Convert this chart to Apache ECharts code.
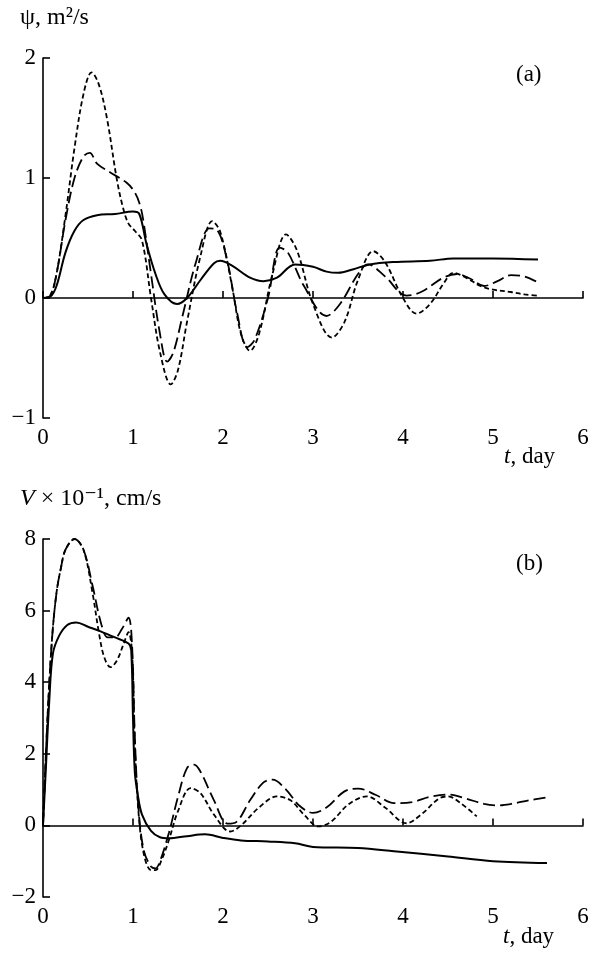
<!DOCTYPE html>
<html>
<head>
<meta charset="utf-8">
<script src="https://cdn.jsdelivr.net/npm/echarts@6/dist/echarts.min.js"></script>
<style>
  html, body { margin: 0; padding: 0; background: #fff; }
  #chart { width: 592px; height: 955px; }
</style>
</head>
<body>
<div id="chart"></div>
<script>
// panel (a): psi, m^2/s  -- [t, value]
const psiSolid = [[0,0],[0.08,0.01],[0.15,0.1],[0.25,0.38],[0.35,0.56],[0.45,0.65],[0.6,0.69],[0.8,0.7],[1.0,0.72],[1.07,0.7],[1.15,0.45],[1.25,0.2],[1.35,0.03],[1.49,-0.05],[1.6,0.0],[1.75,0.15],[1.9,0.29],[1.97,0.31],[2.1,0.27],[2.3,0.17],[2.45,0.14],[2.6,0.17],[2.8,0.28],[3.0,0.26],[3.15,0.22],[3.28,0.21],[3.45,0.24],[3.63,0.28],[3.9,0.3],[4.3,0.31],[4.56,0.33],[5.0,0.33],[5.5,0.32]]
const psiLong = [[0,0],[0.08,0.02],[0.15,0.2],[0.25,0.65],[0.35,1.0],[0.45,1.18],[0.52,1.21],[0.6,1.12],[0.74,1.05],[0.93,0.96],[1.02,0.88],[1.08,0.77],[1.12,0.62],[1.2,0.2],[1.3,-0.3],[1.38,-0.53],[1.45,-0.45],[1.55,-0.15],[1.7,0.3],[1.85,0.58],[1.93,0.57],[2.05,0.3],[2.15,-0.1],[2.27,-0.41],[2.35,-0.35],[2.5,0.0],[2.63,0.42],[2.72,0.38],[2.9,0.1],[3.15,-0.15],[3.3,-0.05],[3.5,0.2],[3.61,0.28],[3.8,0.18],[4.04,0.02],[4.2,0.05],[4.45,0.17],[4.6,0.2],[4.75,0.16],[4.9,0.1],[5.05,0.14],[5.2,0.19],[5.35,0.18],[5.5,0.13]]
const psiShort = [[0,0],[0.08,0.02],[0.15,0.2],[0.25,0.69],[0.35,1.25],[0.45,1.7],[0.54,1.88],[0.62,1.78],[0.71,1.5],[0.82,0.99],[0.89,0.75],[0.95,0.62],[1.02,0.56],[1.1,0.48],[1.2,0.0],[1.3,-0.45],[1.42,-0.72],[1.5,-0.6],[1.6,-0.2],[1.75,0.35],[1.88,0.64],[1.97,0.55],[2.1,0.1],[2.2,-0.3],[2.3,-0.44],[2.4,-0.3],[2.55,0.2],[2.7,0.53],[2.82,0.4],[3.0,-0.05],[3.21,-0.33],[3.35,-0.2],[3.5,0.15],[3.67,0.39],[3.8,0.3],[4.0,0.0],[4.15,-0.13],[4.3,-0.05],[4.45,0.12],[4.56,0.21],[4.7,0.17],[4.86,0.1],[5.0,0.07],[5.2,0.05],[5.35,0.03],[5.49,0.02]]

// panel (b): V x 10^-1, cm/s
const vSolid = [[0,0],[0.03,1.5],[0.07,3.5],[0.11,4.8],[0.18,5.3],[0.27,5.6],[0.37,5.67],[0.5,5.55],[0.64,5.42],[0.8,5.25],[0.95,5.08],[0.98,4.9],[1.0,3.0],[1.02,1.5],[1.05,0.9],[1.1,0.3],[1.2,-0.15],[1.3,-0.33],[1.4,-0.36],[1.6,-0.3],[1.8,-0.25],[2.0,-0.35],[2.2,-0.42],[2.5,-0.45],[2.8,-0.5],[3.0,-0.6],[3.5,-0.63],[3.9,-0.72],[4.5,-0.87],[5.0,-1.0],[5.6,-1.05]]
const vLong = [[0,0],[0.05,3],[0.1,5.2],[0.15,6.5],[0.2,7.2],[0.25,7.7],[0.35,8.0],[0.45,7.7],[0.55,6.7],[0.65,5.6],[0.72,5.25],[0.8,5.25],[0.88,5.5],[0.95,5.8],[0.99,5.0],[1.02,2.5],[1.06,0.5],[1.12,-0.7],[1.2,-1.15],[1.25,-1.2],[1.3,-1.0],[1.4,-0.2],[1.5,0.8],[1.6,1.6],[1.68,1.7],[1.75,1.5],[1.9,0.7],[2.05,0.05],[2.15,0.1],[2.3,0.7],[2.45,1.2],[2.55,1.28],[2.7,1.0],[2.85,0.55],[3.0,0.35],[3.15,0.5],[3.35,0.95],[3.5,1.03],[3.7,0.85],[3.9,0.62],[4.1,0.65],[4.3,0.8],[4.5,0.86],[4.7,0.75],[4.9,0.6],[5.05,0.56],[5.2,0.6],[5.4,0.7],[5.6,0.78]]
const vShort = [[0,0],[0.05,3],[0.1,5.2],[0.15,6.5],[0.2,7.2],[0.25,7.7],[0.35,8.0],[0.45,7.7],[0.55,6.5],[0.62,5.4],[0.68,4.7],[0.75,4.42],[0.82,4.6],[0.9,5.1],[0.95,5.4],[0.99,4.8],[1.02,2.3],[1.06,0.4],[1.12,-0.8],[1.2,-1.25],[1.25,-1.25],[1.32,-0.95],[1.4,-0.4],[1.5,0.4],[1.64,1.04],[1.75,0.9],[1.9,0.3],[2.08,-0.17],[2.2,0.0],[2.4,0.5],[2.6,0.81],[2.75,0.7],[2.9,0.3],[3.06,-0.03],[3.2,0.1],[3.4,0.6],[3.6,0.81],[3.8,0.5],[4.04,0.06],[4.2,0.3],[4.4,0.75],[4.5,0.81],[4.65,0.6],[4.82,0.25]]

const xTicks = [0, 1, 2, 3, 4, 5, 6]

const serif = '"Liberation Serif", "DejaVu Serif", serif'

const makeXAxis = (gridIndex) => {
    return {
        type: 'value', gridIndex: gridIndex,
        min: 0, max: 6, interval: 1,
        axisLine: { lineStyle: { color: '#000', width: 1.6 } },
        axisTick: { inside: true, length: 7, lineStyle: { color: '#000', width: 1.6 } },
        axisLabel: { color: '#000', fontFamily: serif, fontSize: 23, margin: 8,
            formatter: v => xTicks.includes(v) ? String(v) : '' },
        splitLine: { show: false }
    }
}

const makeYAxis = (gridIndex, min, max, interval) => {
    return {
        type: 'value', gridIndex: gridIndex,
        min: min, max: max, interval: interval,
        axisLine: { show: true, lineStyle: { color: '#000', width: 1.6 } },
        axisTick: { show: true, inside: true, length: 7, lineStyle: { color: '#000', width: 1.6 } },
        axisLabel: { color: '#000', fontFamily: serif, fontSize: 23, margin: 7,
            formatter: v => v < 0 ? '\u2212' + Math.abs(v) : String(v) },
        splitLine: { show: false }
    }
}

const makeLine = (data, axisIndex, dash, width) => {
    return {
        type: 'line', data: data,
        xAxisIndex: axisIndex, yAxisIndex: axisIndex,
        smooth: 0.35, symbol: 'none',
        lineStyle: { color: '#000', width: width, type: dash }
    }
}

const chart = echarts.init(document.getElementById('chart'))

const textStyle = (text, size) => ({
    text: text, fill: '#000', font: size + 'px ' + serif,
    rich: {
        i: { fontStyle: 'italic', fontFamily: serif, fontSize: size }
    }
})

chart.setOption({
    animation: false,
    backgroundColor: '#fff',
    grid: [
        { left: 43, top: 58, width: 540, height: 360 },
        { left: 43, top: 539, width: 540, height: 358 }
    ],
    xAxis: [makeXAxis(0), makeXAxis(1)],
    yAxis: [makeYAxis(0, -1, 2, 1), makeYAxis(1, -2, 8, 2)],
    series: [
        makeLine(psiSolid, 0, 'solid', 2),
        makeLine(psiLong, 0, [12, 5], 1.8),
        makeLine(psiShort, 0, [5, 3], 1.8),
        makeLine(vSolid, 1, 'solid', 2),
        makeLine(vLong, 1, [12, 5], 1.8),
        makeLine(vShort, 1, [5, 3], 1.8)
    ],
    graphic: [
        { type: 'text', left: 20, top: 6, style: textStyle('\u03c8, m\u00b2/s', 24) },
        { type: 'text', left: 516, top: 63, style: textStyle('(a)', 23) },
        { type: 'text', left: 504, top: 445, style: textStyle('{i|t}, day', 23) },
        { type: 'text', left: 20, top: 487, style: textStyle('{i|V} \u00d7 10\u207b\u00b9, cm/s', 24) },
        { type: 'text', left: 516, top: 552, style: textStyle('(b)', 23) },
        { type: 'text', left: 503, top: 925, style: textStyle('{i|t}, day', 23) }
    ]
})
</script>
</body>
</html>
